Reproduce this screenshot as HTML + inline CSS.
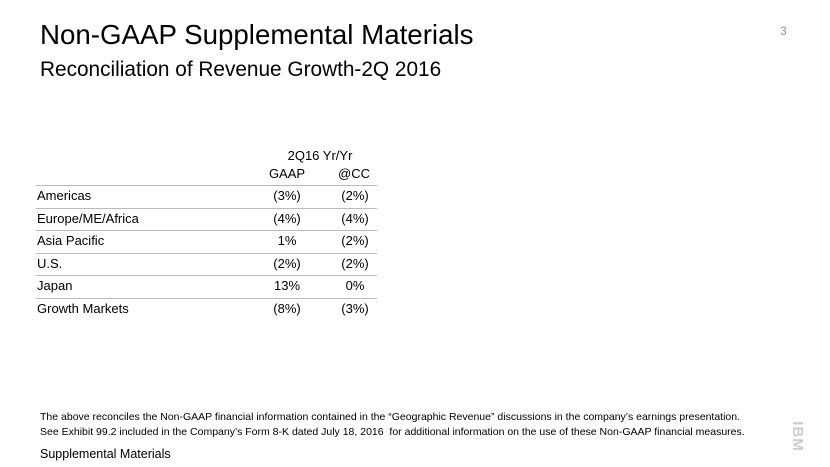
<!DOCTYPE html>
<html><head><meta charset="utf-8"><style>
body{margin:0;width:830px;height:467px;background:#fff;position:relative;overflow:hidden;font-family:"Liberation Sans",sans-serif;color:#000}
.a{position:absolute;white-space:nowrap}
.line{position:absolute;left:36px;width:341px;height:1px;background:#bbb}
.c{position:absolute;transform:translateX(-50%);white-space:nowrap;font-size:13px}
.l{position:absolute;left:37px;font-size:13px}
</style></head><body>
<div class="a" style="left:40px;top:19px;font-size:27.7px">Non-GAAP Supplemental Materials</div>
<div class="a" style="left:40px;top:58px;font-size:20.8px">Reconciliation of Revenue Growth-2Q 2016</div>
<div class="a" style="left:780px;top:24px;font-size:12px;color:#999">3</div>
<div>
<div class="c" style="left:320px;top:148px">2Q16 Yr/Yr</div>
<div class="c" style="left:287px;top:166px">GAAP</div>
<div class="c" style="left:354px;top:166px">@CC</div>
<div class="line" style="top:185px"></div>
<div class="l" style="top:188px">Americas</div><div class="c" style="left:287px;top:188px">(3%)</div><div class="c" style="left:355px;top:188px">(2%)</div>
<div class="line" style="top:208px"></div>
<div class="l" style="top:211px">Europe/ME/Africa</div><div class="c" style="left:287px;top:211px">(4%)</div><div class="c" style="left:355px;top:211px">(4%)</div>
<div class="line" style="top:230px"></div>
<div class="l" style="top:233px">Asia Pacific</div><div class="c" style="left:287px;top:233px">1%</div><div class="c" style="left:355px;top:233px">(2%)</div>
<div class="line" style="top:253px"></div>
<div class="l" style="top:256px">U.S.</div><div class="c" style="left:287px;top:256px">(2%)</div><div class="c" style="left:355px;top:256px">(2%)</div>
<div class="line" style="top:275px"></div>
<div class="l" style="top:278px">Japan</div><div class="c" style="left:287px;top:278px">13%</div><div class="c" style="left:355px;top:278px">0%</div>
<div class="line" style="top:298px"></div>
<div class="l" style="top:301px">Growth Markets</div><div class="c" style="left:287px;top:301px">(8%)</div><div class="c" style="left:355px;top:301px">(3%)</div>
</div>
<div class="a" style="left:40px;top:410px;font-size:10.5px;line-height:15px">The above reconciles the Non-GAAP financial information contained in the “Geographic Revenue” discussions in the company’s earnings presentation.<br>See Exhibit 99.2 included in the Company’s Form 8-K dated July 18, 2016 &nbsp;for additional information on the use of these Non-GAAP financial measures.</div>
<div class="a" style="left:40px;top:447px;font-size:12.5px">Supplemental Materials</div>
<div class="a" style="left:782px;top:428px;font-size:15px;font-weight:bold;color:#ccc;transform:rotate(90deg);letter-spacing:1px">IBM</div>
</body></html>
